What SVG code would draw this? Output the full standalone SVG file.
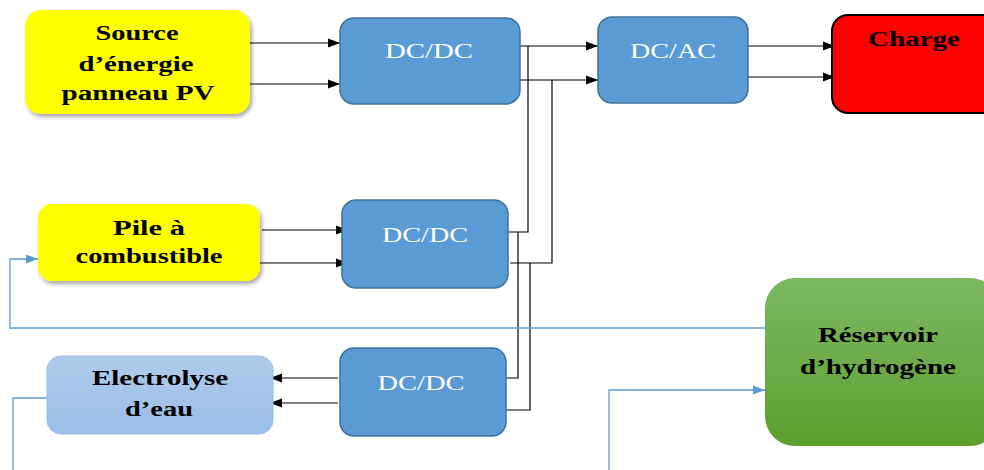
<svg xmlns="http://www.w3.org/2000/svg" width="984" height="470" viewBox="0 0 984 470">
<defs>
<filter id="sh" x="-10%" y="-10%" width="125%" height="130%"><feGaussianBlur in="SourceAlpha" stdDeviation="2"/><feOffset dx="2" dy="3"/><feComponentTransfer><feFuncA type="linear" slope="0.35"/></feComponentTransfer><feMerge><feMergeNode/><feMergeNode in="SourceGraphic"/></feMerge></filter>
<linearGradient id="gEl" x1="0" y1="0" x2="0" y2="1"><stop offset="0" stop-color="#aecbeb"/><stop offset="1" stop-color="#9bbde6"/></linearGradient>
<linearGradient id="gRes" x1="0" y1="0" x2="0" y2="1"><stop offset="0" stop-color="#7db862"/><stop offset="1" stop-color="#5e9e2f"/></linearGradient>
<marker id="ab" viewBox="0 0 12 10" refX="12" refY="5" markerWidth="12" markerHeight="10" markerUnits="userSpaceOnUse" orient="auto"><path d="M0,0.5 L12,5 L0,9.5 z" fill="#000"/></marker>
<marker id="abl" viewBox="0 0 12 10" refX="12" refY="5" markerWidth="12" markerHeight="10" markerUnits="userSpaceOnUse" orient="auto"><path d="M0,0.5 L12,5 L0,9.5 z" fill="#5b9bd5"/></marker>
</defs>
<style>
.lbl{font-family:"Liberation Serif","Times New Roman",serif;font-weight:bold;font-size:20px;fill:#000;text-anchor:middle}
.dc{font-family:"Liberation Serif","Times New Roman",serif;font-size:22px;fill:#fff;text-anchor:middle}
.bx{fill:#5b9bd5;stroke:#41719c;stroke-width:1.5}
.k{fill:none;stroke:#000;stroke-width:1.2}
.b{fill:none;stroke:#5b9bd5;stroke-width:1.3}
</style>
<rect width="984" height="470" fill="#fff"/>
<g id="connectors">
<line class="k" x1="250" y1="43" x2="340" y2="43" marker-end="url(#ab)"/>
<line class="k" x1="250" y1="84" x2="340" y2="84" marker-end="url(#ab)"/>
<line class="k" x1="517" y1="46" x2="598" y2="46" marker-end="url(#ab)"/>
<line class="k" x1="518" y1="80" x2="598" y2="80" marker-end="url(#ab)"/>
<line class="k" x1="748" y1="46" x2="835" y2="46" marker-end="url(#ab)"/>
<line class="k" x1="748" y1="77" x2="835" y2="77" marker-end="url(#ab)"/>
<polyline class="k" points="528,46 528,232 508,232"/>
<polyline class="k" points="552,80 552,263 510,263"/>
<polyline class="k" points="518,232 518,378 505,378"/>
<polyline class="k" points="530,263 530,410 505,410"/>
<line class="k" x1="262" y1="230" x2="348" y2="230" marker-end="url(#ab)"/>
<line class="k" x1="260" y1="263" x2="348" y2="263" marker-end="url(#ab)"/>
<line class="k" x1="338" y1="378" x2="270" y2="378" marker-end="url(#ab)"/>
<line class="k" x1="338" y1="403" x2="270" y2="403" marker-end="url(#ab)"/>
<polyline class="b" points="778,328 10,328 10,259 38,259" marker-end="url(#abl)"/>
<polyline class="b" points="47,398 13,398 13,470"/>
<polyline class="b" points="609,470 609,390 765,390" marker-end="url(#abl)"/>
</g>
<g id="pv"><rect x="25" y="10" width="225" height="104" rx="16" fill="#ffff00" filter="url(#sh)"/>
<text class="lbl" x="137" y="40" textLength="83" lengthAdjust="spacingAndGlyphs">Source</text><text class="lbl" x="136" y="71" textLength="115" lengthAdjust="spacingAndGlyphs">d’énergie</text><text class="lbl" x="138" y="100" textLength="153" lengthAdjust="spacingAndGlyphs">panneau PV</text></g>
<g id="dcdc1"><rect class="bx" x="340" y="18" width="180" height="86" rx="14"/><text class="dc" x="429" y="58" textLength="88" lengthAdjust="spacingAndGlyphs">DC/DC</text></g>
<g id="dcac"><rect class="bx" x="598" y="17" width="150" height="86" rx="14"/><text class="dc" x="673" y="58" textLength="86" lengthAdjust="spacingAndGlyphs">DC/AC</text></g>
<g id="charge"><rect x="832" y="15" width="170" height="98" rx="16" fill="#ff0000" stroke="#000" stroke-width="2"/><text class="lbl" x="914" y="46" textLength="92" lengthAdjust="spacingAndGlyphs">Charge</text></g>
<g id="pile"><rect x="38" y="204" width="222" height="77" rx="14" fill="#ffff00" filter="url(#sh)"/>
<text class="lbl" x="149" y="235" textLength="72" lengthAdjust="spacingAndGlyphs">Pile à</text><text class="lbl" x="149" y="263" textLength="147" lengthAdjust="spacingAndGlyphs">combustible</text></g>
<g id="dcdc2"><rect class="bx" x="342" y="200" width="166" height="88" rx="14"/><text class="dc" x="425" y="242" textLength="86" lengthAdjust="spacingAndGlyphs">DC/DC</text></g>
<g id="electrolyse"><rect x="47" y="356" width="226" height="78" rx="14" fill="url(#gEl)" stroke="#9bbde6" stroke-width="1"/>
<text class="lbl" x="160" y="385" textLength="136" lengthAdjust="spacingAndGlyphs">Electrolyse</text><text class="lbl" x="159" y="416" textLength="68" lengthAdjust="spacingAndGlyphs">d’eau</text></g>
<g id="dcdc3"><rect class="bx" x="340" y="348" width="166" height="88" rx="14"/><text class="dc" x="421" y="390" textLength="87" lengthAdjust="spacingAndGlyphs">DC/DC</text></g>
<g id="reservoir"><rect x="765" y="278" width="235" height="168" rx="30" fill="url(#gRes)"/>
<text class="lbl" x="878" y="342" textLength="120" lengthAdjust="spacingAndGlyphs">Réservoir</text><text class="lbl" x="878" y="374" textLength="156" lengthAdjust="spacingAndGlyphs">d’hydrogène</text></g>
</svg>
